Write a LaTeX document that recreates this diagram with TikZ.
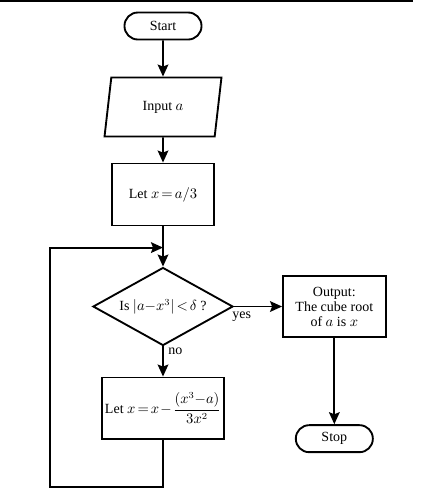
\documentclass[tikz,border=0pt]{standalone}
\usepackage{amsmath}
\usepackage{fontspec}
\setmainfont{Liberation Serif}
\usetikzlibrary{arrows.meta,positioning,calc,shapes.geometric}
\newcommand{\chartfont}{\fontsize{10.5}{11.25}\selectfont\thickmuskip=2.5mu\medmuskip=1.5mu}
\tikzset{
	terminal/.style={draw, rounded corners=10pt, minimum width=57.75pt, minimum height=20.25pt, inner sep=0pt, font=\chartfont},
	io/.style={draw, trapezium, trapezium left angle=77.6, trapezium right angle=102.4, trapezium stretches=true, minimum width=87.75pt, minimum height=44.25pt, inner sep=0pt, font=\chartfont},
	process/.style={draw, align=center, minimum width=76.5pt, minimum height=46.5pt, inner sep=2pt, font=\chartfont},
	decision/.style={draw, diamond, aspect=1.8, minimum width=105pt, minimum height=58.5pt, inner sep=0pt, font=\chartfont},
	flow/.style={-{Stealth[length=9pt, width=8pt, inset=1.5pt]}}
}

\begin{document}
\begin{tikzpicture}[line width=1.4pt]
	\useasboundingbox (-122.25pt,19.5pt) rectangle (203.25pt,-351pt);
	% rule above the chart
	\draw[line width=1.9pt] (-122.25pt,18.75pt) -- (187.5pt,18.75pt);
	\node[terminal] (start) {Start};
	\node[io, below=27.1pt of start] (input) {Input $a$};
	\node[process, below=18.85pt of input] (init) {Let $x = a/3$};
	\node[decision, below=30.1pt of init] (test) {Is $|a{-}x^3| < \delta$ ?};
	\node[process, below=22.6pt of test, minimum width=89pt, minimum height=46pt] (update) {Let $x = x - \dfrac{(x^3{-}a)}{3x^2}$};
	\node[process, right=36.1pt of test, minimum width=77pt, minimum height=46pt] (output) {Output:\\The cube root\\of $a$ is $x$};
	\node[terminal, below=64.6pt of output] (stop) {Stop};
	\coordinate (merge) at ($(test.north)+(0,14.25pt)$);
	\coordinate (loopbl) at ($(update.south)+(-84.75pt,-35.3pt)$);
	\draw[flow] (start) -- (input);
	\draw[flow] (input) -- (init);
	\draw[flow] (init) -- (test);
	\draw[flow] (test) -- node[pos=0.16, below, font=\chartfont, inner sep=3pt] {yes} (output);
	\draw[flow] (test) -- node[pos=0.16, right, font=\chartfont] {no} (update);
	\draw[flow] (output) -- (stop);
	\draw[flow] (update) |- (loopbl) |- (merge);
\end{tikzpicture}
\end{document}
